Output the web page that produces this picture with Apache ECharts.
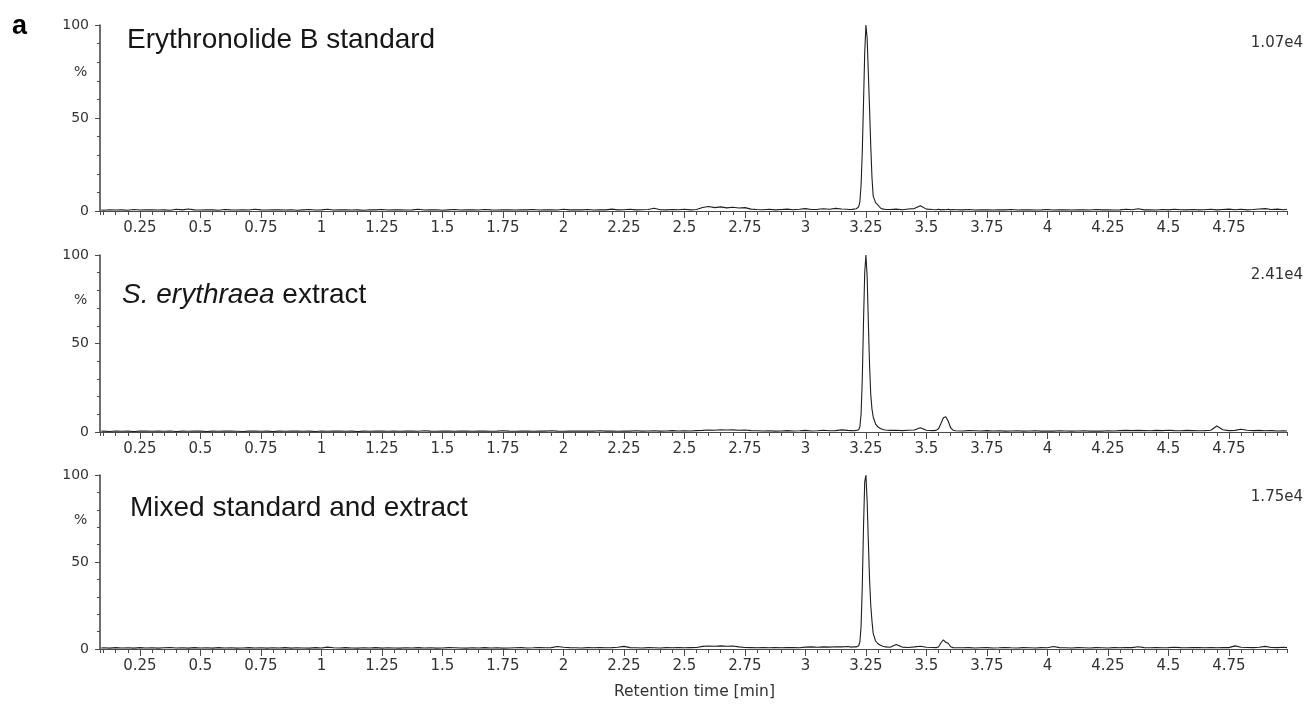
<!DOCTYPE html>
<html>
<head>
<meta charset="utf-8">
<title>Erythronolide B chromatograms</title>
<script src="https://cdn.jsdelivr.net/npm/echarts@6/dist/echarts.min.js"></script>
<style>
  html, body { margin: 0; padding: 0; background: #ffffff; }
  #chart { width: 1312px; height: 704px; }
</style>
</head>
<body>
<div id="chart"></div>
<script>
// Retention time grid (min), denser around the eluting peaks
const retentionTime = [
  0.09, 0.1, 0.125, 0.15, 0.175, 0.2, 0.225, 0.25, 0.275, 0.3,
  0.325, 0.35, 0.375, 0.4, 0.425, 0.45, 0.475, 0.5, 0.525, 0.55,
  0.575, 0.6, 0.625, 0.65, 0.675, 0.7, 0.725, 0.75, 0.775, 0.8,
  0.825, 0.85, 0.875, 0.9, 0.925, 0.95, 0.975, 1.0, 1.025, 1.05,
  1.075, 1.1, 1.125, 1.15, 1.175, 1.2, 1.225, 1.25, 1.275, 1.3,
  1.325, 1.35, 1.375, 1.4, 1.425, 1.45, 1.475, 1.5, 1.525, 1.55,
  1.575, 1.6, 1.625, 1.65, 1.675, 1.7, 1.725, 1.75, 1.775, 1.8,
  1.825, 1.85, 1.875, 1.9, 1.925, 1.95, 1.975, 2.0, 2.025, 2.05,
  2.075, 2.1, 2.125, 2.15, 2.175, 2.2, 2.225, 2.25, 2.275, 2.3,
  2.325, 2.35, 2.375, 2.4, 2.425, 2.45, 2.475, 2.5, 2.525, 2.55,
  2.575, 2.6, 2.625, 2.65, 2.675, 2.7, 2.725, 2.75, 2.775, 2.8,
  2.825, 2.85, 2.875, 2.9, 2.925, 2.95, 2.975, 3.0, 3.025, 3.05,
  3.075, 3.1, 3.125, 3.15, 3.175,
  3.19, 3.2, 3.21, 3.215, 3.22, 3.225, 3.23, 3.235, 3.24, 3.245, 3.25,
  3.255, 3.26, 3.265, 3.27, 3.275, 3.28, 3.29, 3.3, 3.31, 3.32, 3.33,
  3.35, 3.375, 3.4, 3.425, 3.45, 3.475, 3.5, 3.525,
  3.54, 3.55, 3.56, 3.57, 3.58, 3.59, 3.6, 3.61, 3.62,
  3.65, 3.675, 3.7, 3.725, 3.75, 3.775, 3.8, 3.825, 3.85, 3.875,
  3.9, 3.925, 3.95, 3.975, 4.0, 4.025, 4.05, 4.075, 4.1, 4.125,
  4.15, 4.175, 4.2, 4.225, 4.25, 4.275, 4.3, 4.325, 4.35, 4.375,
  4.4, 4.425, 4.45, 4.475, 4.5, 4.525, 4.55, 4.575, 4.6, 4.625,
  4.65, 4.675, 4.7, 4.725, 4.75, 4.775, 4.8, 4.825, 4.85, 4.875,
  4.9, 4.925, 4.95, 4.975, 4.99
];

// Relative intensity (%) — erythronolide B standard
const standardIntensity = [
  0.5, 0.4, 0.7, 0.5, 0.6, 0.4, 0.8, 0.5, 0.6, 0.7,
  0.5, 0.6, 0.4, 0.9, 0.6, 1.1, 0.6, 0.5, 0.7, 0.6,
  0.4, 0.8, 0.6, 0.5, 0.7, 0.5, 0.9, 0.6, 0.5, 0.7,
  0.6, 0.5, 0.7, 0.4, 0.6, 0.8, 0.5, 0.6, 0.9, 0.5,
  0.6, 0.7, 0.5, 0.6, 0.4, 0.7, 0.6, 0.8, 0.5, 0.6,
  0.7, 0.5, 0.6, 0.9, 0.5, 0.6, 0.7, 0.4, 0.6, 0.8,
  0.5, 0.6, 0.7, 0.5, 0.8, 0.6, 0.5, 0.7, 0.6, 0.5,
  0.7, 0.6, 0.8, 0.5, 0.6, 0.7, 0.5, 0.9, 0.6, 0.7,
  0.6, 0.8, 0.5, 0.7, 0.6, 1.0, 0.6, 0.7, 0.9, 0.6,
  0.7, 0.8, 1.5, 0.7, 0.6, 0.8, 0.7, 0.9, 0.6, 0.8,
  1.9, 2.4, 1.8, 2.2, 1.7, 2.0, 1.6, 1.8, 1.0, 0.8,
  0.7, 0.9, 0.6, 0.8, 1.0, 0.7, 0.9, 1.3, 0.8, 0.9,
  1.2, 0.9, 1.4, 1.1, 0.9,
  0.8, 1.0, 1.2, 1.5, 2.2, 5, 14, 32, 58, 85, 100,
  93, 74, 55, 35, 18, 8, 4.5, 3.2, 1.6, 1.0, 0.9,
  0.8, 1.0, 0.7, 1.1, 1.3, 2.8, 1.0, 0.8,
  0.7, 0.9, 0.6, 0.8, 0.7, 0.9, 0.6, 0.8, 0.7,
  0.6, 0.8, 0.5, 0.7, 0.6, 0.5, 0.7, 0.6, 0.8, 0.5,
  0.6, 0.7, 0.5, 0.6, 0.8, 0.5, 0.7, 0.6, 0.5, 0.7,
  0.6, 0.5, 0.8, 0.6, 0.7, 0.5, 0.6, 0.9, 0.7, 1.2,
  0.6, 0.7, 0.5, 0.8, 0.6, 0.9, 0.7, 0.6, 0.8, 0.6,
  0.7, 0.9, 0.6, 0.8, 1.0, 0.7, 0.9, 0.6, 0.8, 1.1,
  1.3, 0.8, 1.0, 0.7, 0.9
];

// Relative intensity (%) — S. erythraea extract
const extractIntensity = [
  0.4, 0.5, 0.3, 0.6, 0.4, 0.5, 0.3, 0.5, 0.6, 0.4,
  0.5, 0.4, 0.6, 0.3, 0.5, 0.4, 0.6, 0.5, 0.3, 0.5,
  0.4, 0.6, 0.5, 0.4, 0.3, 0.5, 0.6, 0.4, 0.5, 0.3,
  0.5, 0.4, 0.6, 0.5, 0.4, 0.5, 0.3, 0.6, 0.4, 0.5,
  0.6, 0.4, 0.5, 0.3, 0.5, 0.4, 0.6, 0.5, 0.4, 0.5,
  0.4, 0.6, 0.5, 0.4, 0.7, 0.5, 0.4, 0.6, 0.5, 0.4,
  0.5, 0.6, 0.4, 0.5, 0.6, 0.4, 0.5, 0.7, 0.5, 0.4,
  0.6, 0.5, 0.4, 0.6, 0.5, 0.7, 0.5, 0.4, 0.6, 0.5,
  0.5, 0.6, 0.5, 0.7, 0.5, 0.6, 0.4, 0.6, 0.5, 0.7,
  0.5, 0.6, 0.7, 0.5, 0.6, 0.8, 0.6, 0.7, 0.6, 0.8,
  0.9, 1.1, 1.0, 1.3, 1.1, 1.2, 1.0, 1.1, 0.8, 0.7,
  0.6, 0.7, 0.5, 0.6, 0.8, 0.6, 0.7, 0.9, 0.6, 0.7,
  1.0, 0.7, 0.8, 1.2, 0.9,
  0.8, 0.7, 0.9, 1.0, 1.3, 3, 10, 30, 62, 90, 100,
  88, 62, 38, 21, 13, 8.5, 4.5, 2.8, 2.0, 1.4, 1.1,
  0.9, 1.0, 0.8, 1.0, 1.1, 2.4, 1.0, 0.8,
  0.9, 1.8, 4.8, 8.0, 8.6, 6.2, 2.4, 1.0, 0.7,
  0.6, 0.8, 0.7, 0.6, 0.8, 0.6, 0.7, 0.5, 0.6, 0.7,
  0.5, 0.6, 0.7, 0.5, 0.6, 0.5, 0.7, 0.6, 0.5, 0.6,
  0.7, 0.5, 0.6, 0.5, 0.7, 0.6, 0.8, 0.9, 0.8, 0.9,
  0.8, 0.7, 0.9, 0.8, 1.0, 0.8, 0.7, 0.9, 0.8, 0.7,
  0.8, 1.0, 3.4, 1.3, 0.8, 0.9, 1.6, 1.0, 0.8, 0.9,
  0.7, 0.8, 0.6, 0.7, 0.6
];

// Relative intensity (%) — mixed standard and extract
const mixedIntensity = [
  0.6, 0.7, 0.5, 0.8, 0.6, 0.7, 0.5, 0.8, 0.6, 0.7,
  0.5, 0.7, 0.9, 0.6, 0.7, 0.5, 0.8, 0.6, 0.7, 0.5,
  0.8, 0.6, 0.7, 0.5, 0.6, 0.8, 0.6, 0.7, 0.5, 0.7,
  0.6, 0.8, 0.5, 0.7, 0.6, 0.5, 0.8, 0.6, 1.1, 0.7,
  0.6, 0.8, 0.6, 0.5, 0.7, 0.6, 0.8, 0.5, 0.7, 0.6,
  0.5, 0.7, 0.6, 0.8, 0.6, 0.7, 0.5, 0.6, 0.8, 0.7,
  0.6, 0.5, 0.7, 0.6, 0.8, 0.6, 0.7, 0.5, 0.6, 0.7,
  0.8, 0.6, 0.7, 0.9, 0.7, 0.8, 1.4, 1.0, 0.8, 0.7,
  0.6, 0.8, 0.7, 0.9, 0.7, 0.8, 1.0, 1.5, 0.8, 0.7,
  0.6, 0.8, 0.7, 0.6, 0.8, 0.7, 0.9, 0.7, 0.8, 0.9,
  1.5, 1.7, 1.6, 1.8, 1.6, 1.7, 1.2, 0.9, 0.8, 0.7,
  0.8, 0.7, 0.9, 0.7, 0.8, 0.9, 0.7, 1.1, 1.2, 1.0,
  1.2, 1.1, 1.3, 1.2, 1.4,
  1.1, 1.3, 1.2, 1.4, 1.8, 4, 13, 36, 70, 96, 100,
  85, 62, 40, 25, 16, 9, 4.6, 3.0, 2.2, 1.6, 1.2,
  1.0, 2.6, 1.1, 0.9, 1.2, 1.6, 1.0, 0.9,
  0.8, 1.2, 3.6, 5.2, 3.8, 3.3, 1.3, 0.8, 0.7,
  0.7, 0.8, 0.6, 0.7, 0.8, 0.6, 0.7, 0.9, 0.7, 0.6,
  0.8, 0.7, 0.6, 0.8, 0.7, 1.4, 0.8, 0.7, 0.6, 0.8,
  0.7, 0.6, 0.8, 0.7, 0.6, 0.8, 0.7, 0.9, 0.8, 1.3,
  0.8, 0.7, 0.9, 0.7, 0.8, 1.0, 0.8, 0.7, 0.9, 0.8,
  0.7, 0.8, 0.7, 0.9, 0.8, 1.8, 1.0, 0.9, 0.8, 1.0,
  1.5, 0.9, 0.8, 1.0, 0.8
];

// Labelled retention-time ticks (min)
const timeTicks = [0.25, 0.5, 0.75, 1, 1.25, 1.5, 1.75, 2, 2.25, 2.5, 2.75,
                   3, 3.25, 3.5, 3.75, 4, 4.25, 4.5, 4.75];
const timeRange = [0.085, 4.99];
const intensityTicks = [0, 50, 100];

const panelNames = ['Erythronolide B standard', '{it|S. erythraea} extract', 'Mixed standard and extract'];
const panelMaxCounts = ['1.07e4', '2.41e4', '1.75e4'];
const panelSeries = [standardIntensity, extractIntensity, mixedIntensity];

// Panel layout (pixels)
const panelBoxes = [
  { top: 25, height: 186, titleLeft: 122, titleTop: 21, countTop: 31, pctY: 73 },
  { top: 255, height: 177, titleLeft: 117, titleTop: 276, countTop: 263, pctY: 301 },
  { top: 475, height: 174, titleLeft: 125, titleTop: 489, countTop: 485, pctY: 521 }
];
const plotLeft = 100;
const plotWidth = 1187;

const axisColor = '#4a4a4a';
const textColor = '#333333';
const labelFont = 'DejaVu Sans';
const titleFont = 'Liberation Sans';

function timeLabel(v) {
  const q = v / 0.25;
  return Math.abs(q - Math.round(q)) < 1e-6 ? String(+v.toFixed(2)) : '';
}

const grid = [], xAxis = [], yAxis = [], series = [], title = [], graphic = [];

panelBoxes.forEach((box, p) => {
  grid.push({ left: plotLeft, top: box.top, width: plotWidth, height: box.height, containLabel: false, outerBoundsMode: 'none' });

  // minor time ticks every 0.05 min, carries the axis line
  xAxis.push({
    type: 'value', gridIndex: p, position: 'bottom',
    min: timeRange[0], max: timeRange[1],
    minInterval: 0.05, maxInterval: 0.05,
    axisLine: { show: true, onZero: false, lineStyle: { color: axisColor, width: 1.2 } },
    axisTick: { show: true, length: 4, lineStyle: { color: axisColor, width: 1 } },
    axisLabel: { show: false },
    splitLine: { show: false }
  });
  // labelled time ticks every 0.25 min
  xAxis.push({
    type: 'value', gridIndex: p, position: 'bottom',
    min: timeRange[0], max: timeRange[1],
    minInterval: 0.25, maxInterval: 0.25,
    axisLine: { show: false, onZero: false },
    axisTick: { show: true, length: 7, customValues: timeTicks, lineStyle: { color: axisColor, width: 1 } },
    axisLabel: {
      show: true, customValues: timeTicks, formatter: timeLabel,
      margin: 10, fontSize: 15, color: textColor, fontFamily: labelFont
    },
    splitLine: { show: false }
  });

  yAxis.push({
    type: 'value', gridIndex: p,
    min: intensityTicks[0], max: intensityTicks[intensityTicks.length - 1], interval: 50,
    axisLine: { show: true, lineStyle: { color: axisColor, width: 1.6 } },
    axisTick: { show: true, length: 5, lineStyle: { color: axisColor, width: 1 } },
    minorTick: { show: true, splitNumber: 5, length: 3, lineStyle: { color: axisColor, width: 1 } },
    axisLabel: { show: true, margin: 11, fontSize: 14, color: textColor, fontFamily: labelFont },
    splitLine: { show: false },
    minorSplitLine: { show: false }
  });

  series.push({
    type: 'line',
    xAxisIndex: 2 * p, yAxisIndex: p,
    data: retentionTime.map((t, i) => [t, panelSeries[p][i]]),
    showSymbol: false, symbol: 'none',
    lineStyle: { color: '#1e1e1e', width: 1.1 },
    clip: true,
    silent: true
  });

  title.push({
    text: panelNames[p],
    left: box.titleLeft, top: box.titleTop,
    textStyle: {
      fontSize: 28, fontWeight: 'normal', color: '#161616', fontFamily: titleFont,
      rich: { it: { fontSize: 28, fontStyle: 'italic', color: '#161616', fontFamily: titleFont } }
    }
  });
  title.push({
    text: panelMaxCounts[p], right: 4, top: box.countTop,
    textStyle: { fontSize: 15, fontWeight: 'normal', color: textColor, fontFamily: labelFont }
  });

  graphic.push({
    type: 'text', left: 74, top: box.pctY - 8,
    style: { text: '%', fontSize: 14, fill: textColor, fontFamily: labelFont }
  });
});

graphic.push({
  type: 'text', left: 12, top: 13,
  style: { text: 'a', fontSize: 27, fontWeight: 'bold', fill: '#000000', fontFamily: titleFont }
});
graphic.push({
  type: 'text', left: 614, top: 684,
  style: { text: 'Retention time [min]', fontSize: 15.5, fill: textColor, fontFamily: labelFont }
});

const chart = echarts.init(document.getElementById('chart'), null, { renderer: 'canvas' });
chart.setOption({
  animation: false,
  backgroundColor: '#ffffff',
  grid, xAxis, yAxis, series, title, graphic,
  tooltip: { show: false }
});
</script>
</body>
</html>
